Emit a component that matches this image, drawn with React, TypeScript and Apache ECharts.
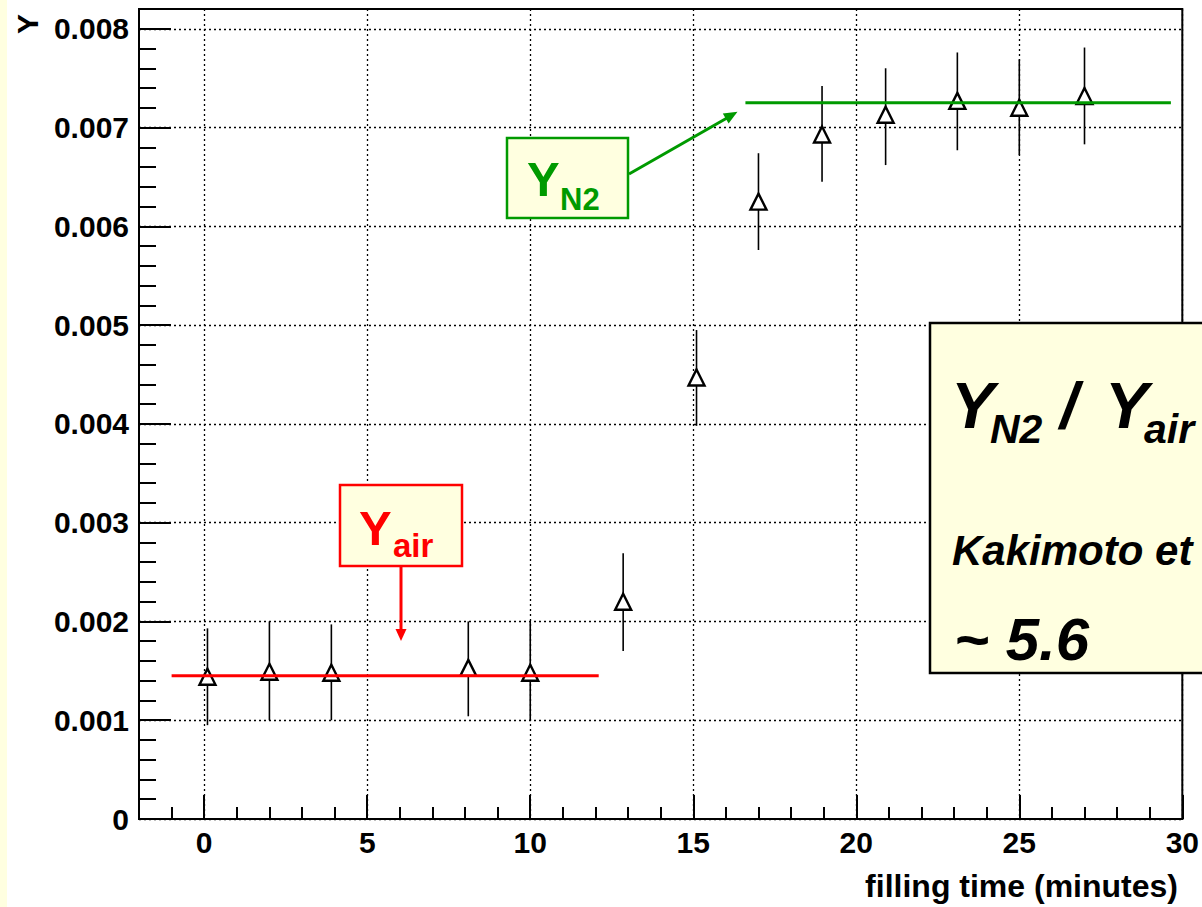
import React, { useEffect, useRef } from "react";
import * as echarts from "echarts";

// ---- data ----
const xMajorTicks = [0, 5, 10, 15, 20, 25, 30];
const yMajorTicks = [0, 0.001, 0.002, 0.003, 0.004, 0.005, 0.006, 0.007, 0.008];
const fillingTime = [0.1, 2.0, 3.9, 8.1, 10.0, 12.85, 15.1, 17.0, 18.95, 20.9, 23.1, 25.0, 27.0];
const yieldY = [0.00144, 0.00149, 0.00148, 0.00153, 0.00148, 0.0022, 0.00447, 0.00625, 0.00693, 0.00713, 0.00727, 0.0072, 0.00732];
const yieldUpper = [0.00193, 0.002, 0.00197, 0.002, 0.002, 0.00269, 0.00495, 0.00674, 0.00742, 0.0076, 0.00776, 0.00769, 0.00781];
const yieldLower = [0.00095, 0.001, 0.001, 0.00104, 0.001, 0.0017, 0.00398, 0.00576, 0.00645, 0.00662, 0.00677, 0.00672, 0.00683];
const yAirLevel = 0.00145;
const yAirSpan = [-1, 12.1];
const yN2Level = 0.00725;
const yN2Span = [16.6, 29.65];

const FONT = "'Liberation Sans', Arial, Helvetica, sans-serif";
const GREEN = "#009a00";
const RED = "#ff0000";
const PALE = "#ffffe0";

export default function App() {
  const ref = useRef<HTMLDivElement>(null);
  useEffect(() => {
    if (!ref.current) return;
    const chart = echarts.init(ref.current, null, { renderer: "svg" });
    const points = fillingTime.map((x, i) => [x, yieldY[i]]);
    const bars = fillingTime.map((x, i) => [x, yieldLower[i], yieldUpper[i]]);
    const txt = (text: string, x: number, y: number, font: string, fill: string, align = "left") => ({
      type: "text",
      z: 110,
      style: { text, x, y, font, fill, align, verticalAlign: "middle" },
    });
    const option: any = {
      animation: false,
      backgroundColor: "#ffffff",
      grid: {
        left: 139,
        right: 18,
        top: 9,
        bottom: 88,
        show: true,
        borderColor: "#000",
        borderWidth: 2,
        backgroundColor: "#fff",
        containLabel: false,
      },
      xAxis: [
        {
          type: "value",
          min: -2,
          max: 30,
          position: "bottom",
          axisLine: { show: true, onZero: false, lineStyle: { color: "#000", width: 2 } },
          axisTick: { show: true, inside: true, length: 24, customValues: xMajorTicks, lineStyle: { color: "#000", width: 2 } },
          axisLabel: {
            show: true,
            customValues: xMajorTicks,
            margin: 8,
            color: "#000",
            fontFamily: FONT,
            fontWeight: "bold",
            fontSize: 30,
            formatter: (v: number) => String(v),
          },
          splitLine: { show: true, lineStyle: { color: "#000", width: 1.3, type: [2, 3] } },
        },
        {
          type: "value",
          min: -2,
          max: 30,
          interval: 1,
          position: "bottom",
          axisLine: { show: false, onZero: false },
          axisTick: { show: true, inside: true, length: 12, lineStyle: { color: "#000", width: 2 } },
          axisLabel: { show: false },
          splitLine: { show: false },
        },
      ],
      yAxis: [
        {
          type: "value",
          min: 0,
          max: 0.0082,
          position: "left",
          axisLine: { show: true, onZero: false, lineStyle: { color: "#000", width: 2 } },
          axisTick: { show: true, inside: true, length: 32, customValues: yMajorTicks, lineStyle: { color: "#000", width: 2 } },
          axisLabel: {
            show: true,
            customValues: yMajorTicks,
            margin: 10,
            color: "#000",
            fontFamily: FONT,
            fontWeight: "bold",
            fontSize: 30,
            formatter: (v: number) => (v === 0 ? "0" : v.toFixed(3)),
          },
          splitLine: { show: true, lineStyle: { color: "#000", width: 1.3, type: [2, 3] } },
        },
        {
          type: "value",
          min: 0,
          max: 0.0082,
          interval: 0.0002,
          position: "left",
          axisLine: { show: false, onZero: false },
          axisTick: { show: true, inside: true, length: 17, lineStyle: { color: "#000", width: 2 } },
          axisLabel: { show: false },
          splitLine: { show: false },
        },
      ],
      series: [
        {
          type: "custom",
          name: "errors",
          xAxisIndex: 0,
          yAxisIndex: 0,
          z: 2,
          data: bars,
          renderItem: (_params: any, api: any) => {
            const x = api.value(0);
            const p1 = api.coord([x, api.value(1)]);
            const p2 = api.coord([x, api.value(2)]);
            return {
              type: "line",
              shape: { x1: p1[0], y1: p1[1], x2: p2[0], y2: p2[1] },
              style: { stroke: "#000", lineWidth: 1.6 },
            };
          },
        },
        {
          type: "scatter",
          name: "Y",
          xAxisIndex: 0,
          yAxisIndex: 0,
          z: 3,
          symbol: "triangle",
          symbolSize: [16, 16],
          itemStyle: { color: "#fff", borderColor: "#000", borderWidth: 2.4, opacity: 1 },
          data: points,
        },
        {
          type: "line",
          name: "Y air",
          xAxisIndex: 0,
          yAxisIndex: 0,
          z: 4,
          showSymbol: false,
          symbol: "none",
          lineStyle: { color: RED, width: 3 },
          data: yAirSpan.map((x) => [x, yAirLevel]),
        },
        {
          type: "line",
          name: "Y N2",
          xAxisIndex: 0,
          yAxisIndex: 0,
          z: 4,
          showSymbol: false,
          symbol: "none",
          lineStyle: { color: GREEN, width: 3 },
          data: yN2Span.map((x) => [x, yN2Level]),
        },
      ],
      graphic: [
        { type: "rect", z: 1, shape: { x: 0, y: 0, width: 7, height: 907 }, style: { fill: PALE } },
        // axis titles
        {
          type: "text",
          z: 110,
          x: 27,
          y: 24,
          rotation: Math.PI / 2,
          style: { text: "Y", x: 0, y: 0, font: `bold 30px ${FONT}`, fill: "#000", align: "center", verticalAlign: "middle" },
        },
        txt("filling time (minutes)", 1178, 886, `bold 32px ${FONT}`, "#000", "right"),
        // Y_air box
        { type: "rect", z: 100, shape: { x: 340, y: 485, width: 122, height: 81 }, style: { fill: PALE, stroke: RED, lineWidth: 2.5 } },
        txt("Y", 359, 528, `bold 49px ${FONT}`, RED),
        txt("air", 393, 545.5, `bold 33px ${FONT}`, RED),
        { type: "line", z: 100, shape: { x1: 401, y1: 566, x2: 401, y2: 631 }, style: { stroke: RED, lineWidth: 3 } },
        { type: "polygon", z: 100, shape: { points: [[395.5, 629], [406.5, 629], [401, 641]] }, style: { fill: RED } },
        // Y_N2 box
        { type: "rect", z: 100, shape: { x: 507, y: 138, width: 121, height: 80 }, style: { fill: PALE, stroke: GREEN, lineWidth: 2.5 } },
        txt("Y", 527, 179, `bold 49px ${FONT}`, GREEN),
        txt("N2", 560, 199, `bold 31px ${FONT}`, GREEN),
        { type: "line", z: 100, shape: { x1: 629, y1: 174, x2: 727, y2: 118 }, style: { stroke: GREEN, lineWidth: 3 } },
        { type: "polygon", z: 100, shape: { points: [[728.6, 123.4], [722.8, 113.4], [737.5, 111.7]] }, style: { fill: GREEN } },
        // ratio box
        { type: "rect", z: 100, shape: { x: 930, y: 323, width: 300, height: 350 }, style: { fill: PALE, stroke: "#000", lineWidth: 2.5 } },
        txt("Y", 951, 405, `italic bold 65px ${FONT}`, "#000"),
        txt("N2", 990, 428.5, `italic bold 41px ${FONT}`, "#000"),
        txt("/", 1060, 405, `italic bold 65px ${FONT}`, "#000"),
        txt("Y", 1105, 405, `italic bold 65px ${FONT}`, "#000"),
        txt("air", 1144, 428.5, `italic bold 41px ${FONT}`, "#000"),
        txt("Kakimoto et", 952, 550, `italic bold 42px ${FONT}`, "#000"),
        txt("~ 5.6", 954, 639, `italic bold 60px ${FONT}`, "#000"),
      ],
    };
    chart.setOption(option);
    return () => chart.dispose();
  }, []);
  return (
    <div
      ref={ref}
      style={{ position: "fixed", left: 0, top: 0, width: 1202, height: 907, background: "#fff" }}
    />
  );
}
